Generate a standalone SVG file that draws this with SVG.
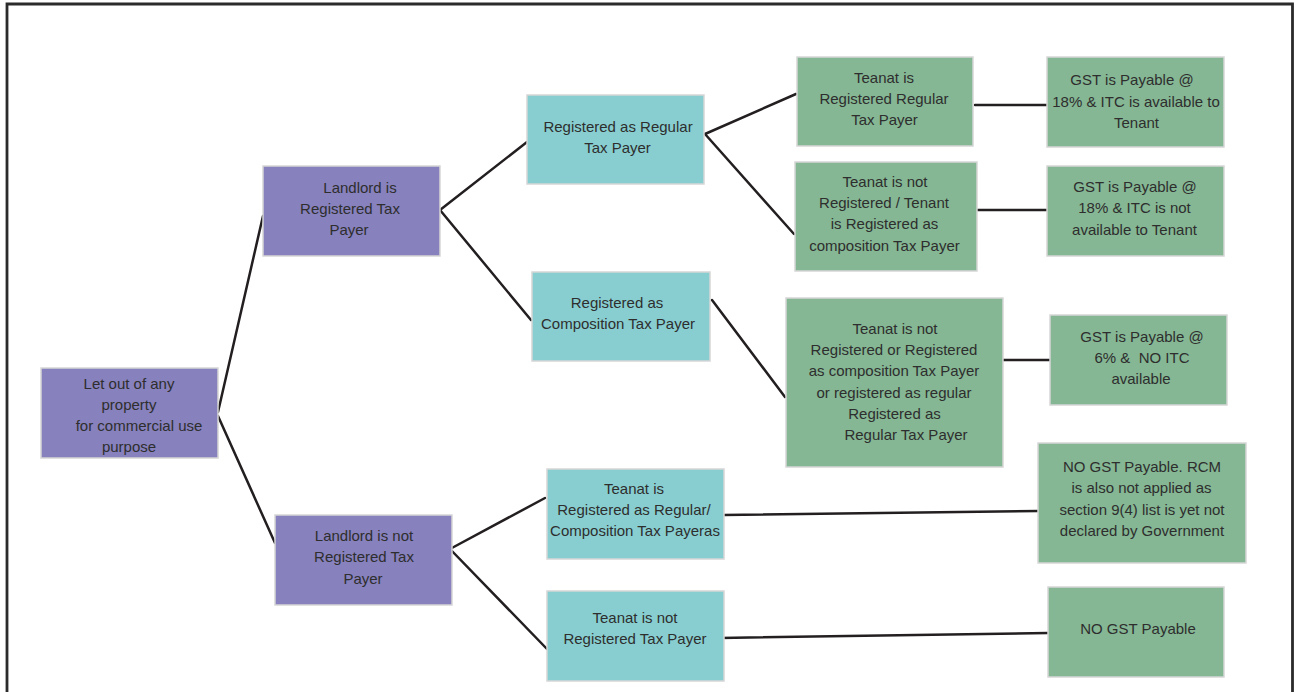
<svg xmlns="http://www.w3.org/2000/svg" width="1298" height="692" viewBox="0 0 1298 692">
<style>
.box{stroke:#d6d6d6;stroke-width:1.5}
.p{fill:#8781bd}
.t{fill:#88ced1}
.g{fill:#85b794}
text{font-family:"Liberation Sans",Arial,sans-serif;font-size:15px;fill:#2e2e2e;text-anchor:middle}
.c line{stroke:#231f20;stroke-width:2.5;stroke-linecap:round}
</style>
<rect width="1298" height="692" fill="#ffffff"/>
<path d="M7,692 V4 H1292.5 V692" fill="none" stroke="#2b2b2b" stroke-width="2.8"/>

<g class="c" id="connectors">
<line x1="218" y1="412" x2="263" y2="216"/>
<line x1="218" y1="416" x2="275" y2="543"/>
<line x1="440" y1="210" x2="527" y2="142"/>
<line x1="440" y1="210" x2="531" y2="320"/>
<line x1="705" y1="134" x2="796" y2="94"/>
<line x1="705" y1="134" x2="794" y2="234"/>
<line x1="712" y1="300" x2="785" y2="397"/>
<line x1="975" y1="105" x2="1048" y2="105"/>
<line x1="972" y1="210" x2="1047" y2="210"/>
<line x1="1003" y1="360" x2="1050" y2="360"/>
<line x1="450" y1="549" x2="545" y2="498"/>
<line x1="450" y1="549" x2="547" y2="649"/>
<line x1="723" y1="515" x2="1038" y2="511"/>
<line x1="720" y1="638" x2="1048" y2="633"/>
</g>

<g id="root">
<rect class="box p" x="41" y="368" width="177" height="90"/>
<text x="129" y="389">Let out of any</text>
<text x="129" y="410">property</text>
<text x="139" y="431">for commercial use</text>
<text x="129" y="452">purpose</text>
</g>

<g id="landlord-reg">
<rect class="box p" x="263" y="166" width="177" height="90"/>
<text x="360" y="193">Landlord is</text>
<text x="350" y="214">Registered Tax</text>
<text x="349" y="235">Payer</text>
</g>

<g id="landlord-notreg">
<rect class="box p" x="275" y="515" width="177" height="90"/>
<text x="364" y="541">Landlord is not</text>
<text x="364" y="562">Registered Tax</text>
<text x="363" y="584">Payer</text>
</g>

<g id="reg-regular">
<rect class="box t" x="527" y="95" width="177" height="89"/>
<text x="618" y="132">Registered as Regular</text>
<text x="617.5" y="153">Tax Payer</text>
</g>

<g id="reg-composition">
<rect class="box t" x="532" y="272" width="178" height="89"/>
<text x="617" y="308">Registered as</text>
<text x="618" y="329">Composition Tax Payer</text>
</g>

<g id="tenant-reg">
<rect class="box t" x="547" y="469" width="177" height="90"/>
<text x="634" y="494">Teanat is</text>
<text x="634" y="515">Registered as Regular/</text>
<text x="635" y="536">Composition Tax Payeras</text>
</g>

<g id="tenant-notreg">
<rect class="box t" x="547" y="591" width="177" height="90"/>
<text x="635" y="623">Teanat is not</text>
<text x="635" y="644">Registered Tax Payer</text>
</g>

<g id="tenant-regular">
<rect class="box g" x="797" y="57" width="176" height="89"/>
<text x="884" y="83">Teanat is</text>
<text x="884" y="104">Registered Regular</text>
<text x="884.5" y="125">Tax Payer</text>
</g>

<g id="tenant-not-comp">
<rect class="box g" x="795" y="162" width="182" height="109"/>
<text x="885" y="187">Teanat is not</text>
<text x="884" y="208">Registered / Tenant</text>
<text x="884.5" y="229">is Registered as</text>
<text x="884.5" y="251">composition Tax Payer</text>
</g>

<g id="tenant-any">
<rect class="box g" x="786" y="298" width="217" height="169"/>
<text x="895" y="334">Teanat is not</text>
<text x="894" y="355">Registered or Registered</text>
<text x="894" y="376">as composition Tax Payer</text>
<text x="894" y="398">or registered as regular</text>
<text x="894.5" y="419">Registered as</text>
<text x="906" y="440">Regular Tax Payer</text>
</g>

<g id="gst-18-itc">
<rect class="box g" x="1047" y="57" width="177" height="90"/>
<text x="1132" y="85">GST is Payable @</text>
<text x="1136" y="107">18% &amp; ITC is available to</text>
<text x="1136.5" y="128">Tenant</text>
</g>

<g id="gst-18-noitc">
<rect class="box g" x="1047" y="166" width="177" height="90"/>
<text x="1135" y="192">GST is Payable @</text>
<text x="1134.5" y="213">18% &amp; ITC is not</text>
<text x="1134.5" y="235">available to Tenant</text>
</g>

<g id="gst-6">
<rect class="box g" x="1050" y="315" width="177" height="90"/>
<text x="1142" y="342">GST is Payable @</text>
<text x="1142" y="363" xml:space="preserve">6% &amp;  NO ITC</text>
<text x="1141" y="384">available</text>
</g>

<g id="no-gst-rcm">
<rect class="box g" x="1038" y="443" width="208" height="120"/>
<text x="1142" y="472">NO GST Payable. RCM</text>
<text x="1141.5" y="493">is also not applied as</text>
<text x="1142" y="515">section 9(4) list is yet not</text>
<text x="1142" y="536">declared by Government</text>
</g>

<g id="no-gst">
<rect class="box g" x="1048" y="587" width="176" height="90"/>
<text x="1138" y="634">NO GST Payable</text>
</g>
</svg>
